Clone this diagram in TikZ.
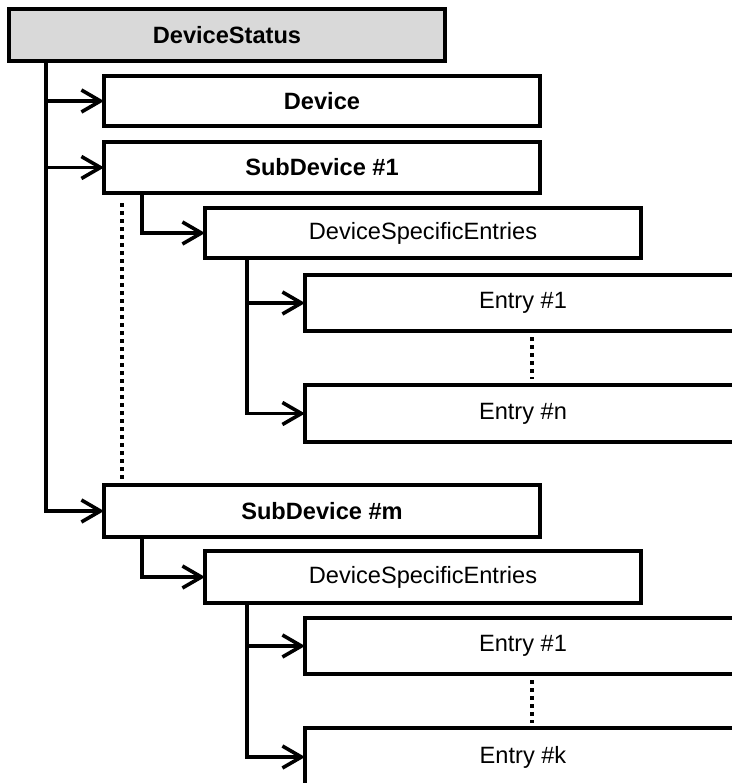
\documentclass[tikz,border=0pt]{standalone}
\usepackage{fontspec}
\setmainfont{Liberation Sans}
\usetikzlibrary{arrows.meta,calc}
\definecolor{hdrgray}{HTML}{D9D9D9}
\tikzset{
  box/.style={draw, line width=1.8pt, minimum width=218pt, anchor=north west,
    inner sep=0pt, outer sep=0pt, font=\fontsize{11.8pt}{14pt}\selectfont},
  boldbox/.style={box, font=\fontsize{11.8pt}{14pt}\selectfont\bfseries},
  conn/.style={line width=1.8pt, line join=miter},
  arr/.style={-{Straight Barb[length=9.5pt,width=11pt]}},
  dots/.style={line width=1.7pt, dash pattern=on 2pt off 2pt}
}
\begin{document}
\begin{tikzpicture}[x=0.5pt,y=-0.5pt]
\useasboundingbox (0,0) rectangle (732,783);
\clip (0,0) rectangle (732,783);
% boxes
\node[boldbox, fill=hdrgray, minimum height=26pt] (ds) at (9,9) {DeviceStatus};
\node[boldbox, minimum height=25pt] (dev) at (104,76) {Device};
\node[boldbox, minimum height=25.5pt] (sd1) at (104,142) {SubDevice \#1};
\node[box, minimum height=25pt] (dse1) at (205,208) {DeviceSpecificEntries};
\node[box, minimum height=28pt] (e11) at (305,275) {Entry \#1};
\node[box, minimum height=28.5pt] (e1n) at (305,385) {Entry \#n};
\node[boldbox, minimum height=26pt] (sdm) at (104,485) {SubDevice \#m};
\node[box, minimum height=26pt] (dse2) at (205,551) {DeviceSpecificEntries};
\node[box, minimum height=28pt] (e21) at (305,618) {Entry \#1};
\node[box, minimum height=29pt] (e2k) at (305,728) {Entry \#k};
% x positions of connector trunks
\coordinate (tx) at (46,0);
\coordinate (bx) at (142,0);
\coordinate (ex) at (247,0);
\coordinate (d1) at (122,0);
\coordinate (dx) at (532,0);
% main trunk
\draw[conn,arr] (ds.south -| tx) |- (sdm.west);
\draw[conn,arr] (dev.west -| tx) -- (dev.west);
\draw[conn,arr] (sd1.west -| tx) -- (sd1.west);
% subdevice 1
\draw[conn,arr] (sd1.south -| bx) |- (dse1.west);
\draw[conn,arr] (dse1.south -| ex) |- (e1n.west);
\draw[conn,arr] (e11.west -| ex) -- (e11.west);
% subdevice m
\draw[conn,arr] (sdm.south -| bx) |- (dse2.west);
\draw[conn,arr] (dse2.south -| ex) |- (e2k.west);
\draw[conn,arr] (e21.west -| ex) -- (e21.west);
% ellipses
\draw[dots] ($(sd1.south -| d1)+(0,-5pt)$) -- ($(sdm.north -| d1)+(0,1.5pt)$);
\draw[dots] ($(e11.south -| dx)+(0,-3pt)$) -- ($(e1n.north -| dx)+(0,3pt)$);
\draw[dots] ($(e21.south -| dx)+(0,-3pt)$) -- ($(e2k.north -| dx)+(0,2.5pt)$);
\end{tikzpicture}
\end{document}
